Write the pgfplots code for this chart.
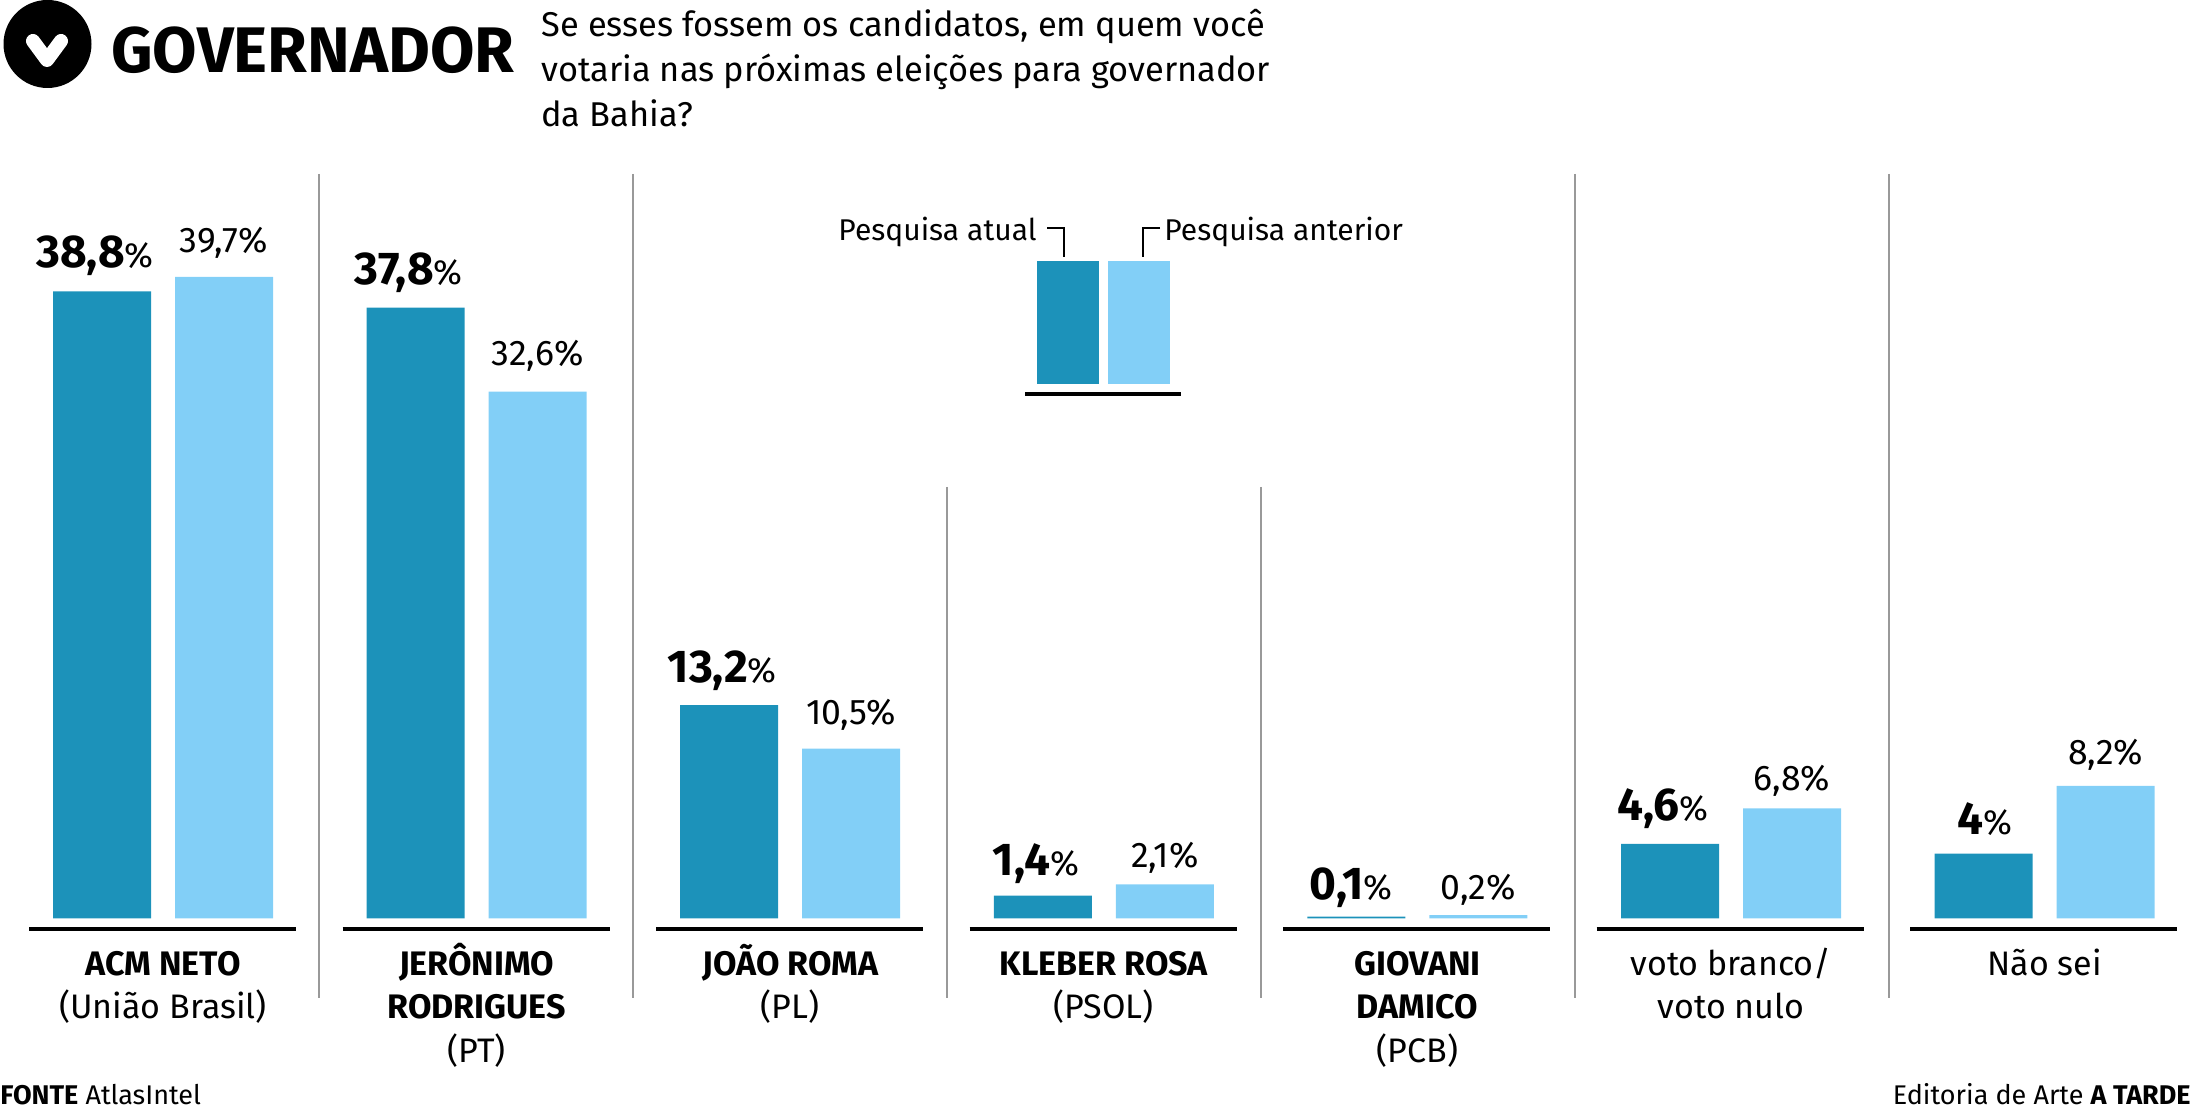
\documentclass[border=0pt]{standalone}
\usepackage{fontspec}
\setmainfont{Fira Sans}
\usepackage{pgfplots}
\usepackage{pgfplotstable}
\pgfplotsset{compat=1.18}
\definecolor{atual}{HTML}{1C92BA}
\definecolor{anterior}{HTML}{82CFF7}
\definecolor{sep}{HTML}{999999}
\newcommand{\fs}[1]{\fontsize{#1}{#1}\selectfont}
\newcommand{\ls}{\rule{0pt}{19pt}}

% group, pesquisa atual, pesquisa anterior, then label nudges in pt
\pgfplotstableread{
g atual anterior dya dxa dyb
0 38.8 39.7 12.0 -3.5 12.0
1 37.8 32.6 11.5 -3.5 13.0
2 13.2 10.5 11.5 -3.5 12.0
3 1.4 2.1 10.0 -3.5 8.5
4 0.1 0.2 8.5 -2.5 8.0
5 4.6 6.8 11.5 -3.5 9.0
6 4 8.2 9.5 0.5 10.5
}\dados

\begin{document}
\begin{tikzpicture}
  \path[use as bounding box] (0,0) rectangle (1095.5pt,556.5pt);
  \begin{axis}[
      at={(0,97.35pt)}, anchor=south west,
      scale only axis,
      width=1095.5pt, height=459.15pt,
      ybar, bar width=0.3125,
      xmin=-0.5198, xmax=6.467,
      ymin=0, ymax=56.84,
      clip=false,
      axis line style={draw=none},
      major tick length=0pt,
      ytick=\empty,
      xtick=data,
      xticklabels={
        {\ls\bfseries ACM NETO\\(União Brasil)},
        {\ls\bfseries JERÔNIMO\\\bfseries RODRIGUES\\(PT)},
        {\ls\bfseries JOÃO ROMA\\(PL)},
        {\ls\bfseries KLEBER ROSA\\(PSOL)},
        {\ls\bfseries GIOVANI\\\bfseries DAMICO\\(PCB)},
        {\ls voto branco/\\voto nulo},
        {\ls Não sei}},
      xticklabel style={anchor=north, align=center, yshift=-6pt,
        font=\fontsize{17}{21.7}\selectfont},
      /pgf/number format/.cd, use comma, fixed, precision=1, 1000 sep={},
      assume math mode=true,
      /pgfplots/.cd,
      nodes near coords,
    ]
    \addplot[fill=atual, draw=none, bar shift=-30.5pt,
      visualization depends on={\thisrow{dya} \as \dya},
      visualization depends on={\thisrow{dxa} \as \dxa},
      nodes near coords={\pgfmathprintnumber{\pgfplotspointmeta}{\fs{17.5}\mdseries\%}},
      every node near coord/.append style={anchor=base, yshift=\dya pt, xshift=\dxa pt,
        black, font=\fontsize{23}{23}\selectfont\bfseries}]
      table[x=g, y=atual] {\dados};
    \addplot[fill=anterior, draw=none, bar shift=30.5pt,
      visualization depends on={\thisrow{dyb} \as \dyb},
      nodes near coords={\pgfmathprintnumber{\pgfplotspointmeta}\%},
      every node near coord/.append style={anchor=base, yshift=\dyb pt,
        black, font=\fontsize{17.8}{17.8}\selectfont}]
      table[x=g, y=anterior] {\dados};
  \end{axis}

  % everything else in reference pixels, origin top left
  \begin{scope}[shift={(0,556.5pt)}, x=.5pt, y=-.5pt]
    % separators
    \foreach \x in {319,633,1575,1889}
      \draw[sep, line width=.8pt] (\x,174) -- (\x,998);
    \foreach \x in {947,1261}
      \draw[sep, line width=.8pt] (\x,487) -- (\x,998);
    % base rules
    \foreach \i in {0,...,6}
      \draw[black, line width=1.7pt] ({29+313.5*\i},929) -- ({296+313.5*\i},929);

    % logo
    \fill[black] (47.5,44) circle[radius=44];
    \draw[white, line width=7pt, line cap=round, line join=round]
      (33,41) -- (47,60) -- (61,41);
    \node[anchor=base west, inner sep=0, font=\fontsize{32.2}{32.2}\selectfont\bfseries]
      at (111,73) {GOVERNADOR};
    \node[anchor=base west, inner sep=0, font=\fontsize{17.2}{17.2}\selectfont] at (541,37)
      {Se esses fossem os candidatos, em quem você};
    \node[anchor=base west, inner sep=0, font=\fontsize{17.2}{17.2}\selectfont] at (541,82)
      {votaria nas próximas eleições para governador};
    \node[anchor=base west, inner sep=0, font=\fontsize{17.2}{17.2}\selectfont] at (541,127)
      {da Bahia?};

    % key
    \fill[atual] (1037,261) rectangle (1099,384);
    \fill[anterior] (1108,261) rectangle (1170,384);
    \draw[black, line width=1.7pt] (1025,394) -- (1181,394);
    \draw[black, line width=1.3pt] (1047,228) -- (1064,228) -- (1064,257);
    \draw[black, line width=1.3pt] (1160,228) -- (1143,228) -- (1143,257);
    \node[anchor=base east, inner sep=0, font=\fontsize{15}{15}\selectfont] at (1037,241)
      {Pesquisa atual};
    \node[anchor=base west, inner sep=0, font=\fontsize{15}{15}\selectfont] at (1164,241)
      {Pesquisa anterior};

    % footer
    \node[anchor=base west, inner sep=0, font=\fontsize{13.5}{13.5}\selectfont] at (0,1105)
      {\textbf{FONTE} AtlasIntel};
    \node[anchor=base east, inner sep=0, font=\fontsize{13.5}{13.5}\selectfont] at (2191,1105)
      {Editoria de Arte \textbf{A TARDE}};
  \end{scope}
\end{tikzpicture}
\end{document}
